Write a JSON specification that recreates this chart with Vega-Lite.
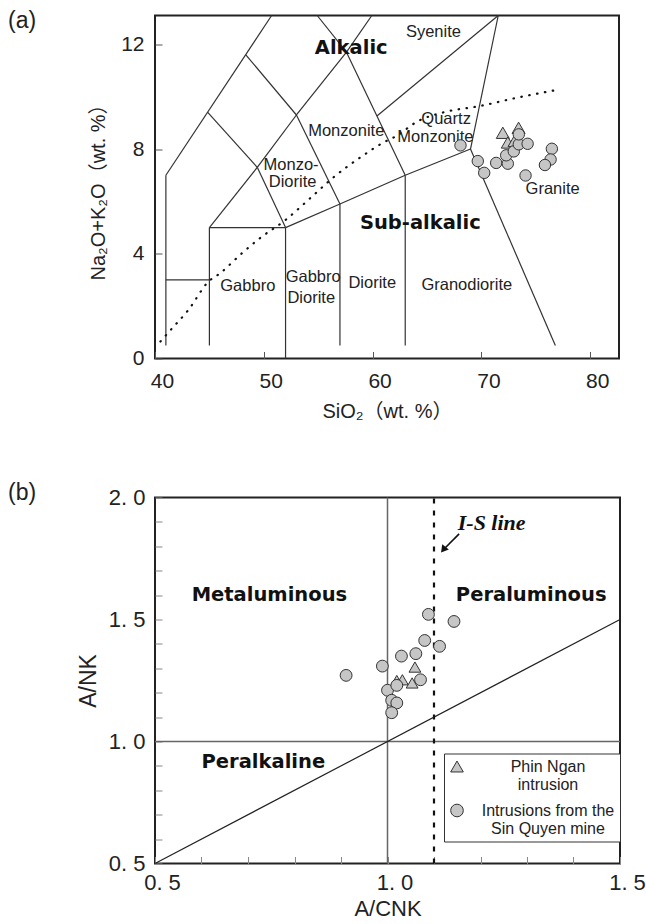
{
  "$schema": "https://vega.github.io/schema/vega-lite/v6.json",
  "padding": {"left": 7, "top": 8.5, "right": 0, "bottom": 0},
  "spacing": 42,
  "align": "all",
  "background": "white",
  "config": {
    "view": {"stroke": "#222", "strokeWidth": 2},
    "axis": {
      "domain": false, "grid": false, "tickColor": "#555", "tickSize": -7, "tickWidth": 1,
      "labelFont": "Liberation Sans", "labelColor": "#222", "labelFontSize": 21,
      "titleFont": "Liberation Sans, Noto Sans CJK SC", "titleFontWeight": "normal", "titleColor": "#222"
    }
  },
  "datasets": {
    "seg_a": [
      {"x": 41, "y": 0.5, "x2": 41, "y2": 7},
      {"x": 41, "y": 7, "x2": 50.72, "y2": 13.1},
      {"x": 41, "y": 3, "x2": 45, "y2": 3},
      {"x": 45, "y": 0.5, "x2": 45, "y2": 5},
      {"x": 45, "y": 5, "x2": 52, "y2": 5},
      {"x": 52, "y": 0, "x2": 52, "y2": 5},
      {"x": 45, "y": 5, "x2": 49.4, "y2": 7.3},
      {"x": 49.4, "y": 7.3, "x2": 52, "y2": 5},
      {"x": 49.4, "y": 7.3, "x2": 53, "y2": 9.3},
      {"x": 53, "y": 9.3, "x2": 57.6, "y2": 11.7},
      {"x": 44.85, "y": 9.4, "x2": 49.4, "y2": 7.3},
      {"x": 48.35, "y": 11.6, "x2": 53, "y2": 9.3},
      {"x": 53, "y": 9.3, "x2": 57, "y2": 5.9},
      {"x": 52, "y": 5, "x2": 57, "y2": 5.9},
      {"x": 57, "y": 0.5, "x2": 57, "y2": 5.9},
      {"x": 57, "y": 5.9, "x2": 63, "y2": 7},
      {"x": 63, "y": 0.5, "x2": 63, "y2": 7},
      {"x": 63, "y": 7, "x2": 69, "y2": 8},
      {"x": 69, "y": 8, "x2": 76.8, "y2": 0.5},
      {"x": 63, "y": 7, "x2": 57.6, "y2": 11.7},
      {"x": 57.6, "y": 11.7, "x2": 54.91, "y2": 13.1},
      {"x": 57.6, "y": 11.7, "x2": 59.93, "y2": 13.1},
      {"x": 60.4, "y": 9.26, "x2": 71.55, "y2": 13.1},
      {"x": 69, "y": 8, "x2": 71.55, "y2": 13.1}
    ],
    "alk_a": [
      {"x": 40.5, "y": 0.65}, {"x": 41.46, "y": 1.1}, {"x": 43.0, "y": 1.82}, {"x": 45.0, "y": 2.97},
      {"x": 45.9, "y": 3.23}, {"x": 48.07, "y": 4.05}, {"x": 49.75, "y": 4.63}, {"x": 51.9, "y": 5.26},
      {"x": 54.5, "y": 6.21}, {"x": 56.35, "y": 6.9}, {"x": 58.8, "y": 7.66}, {"x": 60.96, "y": 8.24},
      {"x": 62.15, "y": 8.49}, {"x": 64.15, "y": 9.06}, {"x": 66.6, "y": 9.41}, {"x": 69.83, "y": 9.64},
      {"x": 73.5, "y": 9.98}, {"x": 77.1, "y": 10.27}
    ],
    "names_a": [
      {"x": 65.59, "y": 12.48, "label": "Syenite"},
      {"x": 57.58, "y": 8.68, "label": "Monzonite"},
      {"x": 52.51, "y": 7.39, "label": "Monzo-"},
      {"x": 52.65, "y": 6.74, "label": "Diorite"},
      {"x": 66.76, "y": 9.15, "label": "Quartz"},
      {"x": 65.77, "y": 8.47, "label": "Monzonite"},
      {"x": 76.55, "y": 6.47, "label": "Granite"},
      {"x": 48.53, "y": 2.75, "label": "Gabbro"},
      {"x": 54.54, "y": 3.11, "label": "Gabbro"},
      {"x": 54.36, "y": 2.31, "label": "Diorite"},
      {"x": 59.97, "y": 2.88, "label": "Diorite"},
      {"x": 68.66, "y": 2.81, "label": "Granodiorite"}
    ],
    "bold_a": [
      {"x": 58.04, "y": 11.85, "label": "Alkalic"},
      {"x": 64.39, "y": 5.17, "label": "Sub-alkalic"}
    ],
    "pts_a": [
      {"x": 71.97, "y": 8.62, "group": "Phin Ngan intrusion"},
      {"x": 73.42, "y": 8.81, "group": "Phin Ngan intrusion"},
      {"x": 72.43, "y": 8.25, "group": "Phin Ngan intrusion"},
      {"x": 73.05, "y": 8.31, "group": "Phin Ngan intrusion"},
      {"x": 68.08, "y": 8.14, "group": "Intrusions from the Sin Quyen mine"},
      {"x": 69.67, "y": 7.54, "group": "Intrusions from the Sin Quyen mine"},
      {"x": 70.26, "y": 7.09, "group": "Intrusions from the Sin Quyen mine"},
      {"x": 71.36, "y": 7.47, "group": "Intrusions from the Sin Quyen mine"},
      {"x": 72.43, "y": 7.44, "group": "Intrusions from the Sin Quyen mine"},
      {"x": 72.28, "y": 7.76, "group": "Intrusions from the Sin Quyen mine"},
      {"x": 72.98, "y": 7.91, "group": "Intrusions from the Sin Quyen mine"},
      {"x": 73.44, "y": 8.18, "group": "Intrusions from the Sin Quyen mine"},
      {"x": 73.44, "y": 8.56, "group": "Intrusions from the Sin Quyen mine"},
      {"x": 74.25, "y": 8.2, "group": "Intrusions from the Sin Quyen mine"},
      {"x": 74.06, "y": 6.99, "group": "Intrusions from the Sin Quyen mine"},
      {"x": 76.48, "y": 8.01, "group": "Intrusions from the Sin Quyen mine"},
      {"x": 76.36, "y": 7.6, "group": "Intrusions from the Sin Quyen mine"},
      {"x": 75.84, "y": 7.39, "group": "Intrusions from the Sin Quyen mine"}
    ],
    "grid_b": [
      {"x": 0.5, "y": 1, "x2": 1.5, "y2": 1},
      {"x": 1, "y": 0.5, "x2": 1, "y2": 2}
    ],
    "diag_b": [
      {"x": 0.5, "y": 0.5, "x2": 1.5, "y2": 1.5}
    ],
    "is_b": [
      {"x": 1.1, "y": 0.5, "x2": 1.1, "y2": 2}
    ],
    "arrow_b": [
      {"x": 1.154, "y": 1.851, "x2": 1.12, "y2": 1.786}
    ],
    "head_b": [
      {"x": 1.12, "y": 1.786}
    ],
    "bold_b": [
      {"x": 0.746, "y": 1.599, "label": "Metaluminous"},
      {"x": 1.309, "y": 1.599, "label": "Peraluminous"},
      {"x": 0.733, "y": 0.916, "label": "Peralkaline"}
    ],
    "isl_b": [
      {"x": 1.224, "y": 1.896, "label": "I-S line"}
    ],
    "pts_b": [
      {"x": 1.059, "y": 1.305, "group": "Phin Ngan intrusion"},
      {"x": 1.032, "y": 1.253, "group": "Phin Ngan intrusion"},
      {"x": 1.053, "y": 1.24, "group": "Phin Ngan intrusion"},
      {"x": 1.02, "y": 1.25, "group": "Phin Ngan intrusion"},
      {"x": 0.911, "y": 1.271, "group": "Intrusions from the Sin Quyen mine"},
      {"x": 0.989, "y": 1.309, "group": "Intrusions from the Sin Quyen mine"},
      {"x": 1.03, "y": 1.35, "group": "Intrusions from the Sin Quyen mine"},
      {"x": 1.061, "y": 1.36, "group": "Intrusions from the Sin Quyen mine"},
      {"x": 1.071, "y": 1.253, "group": "Intrusions from the Sin Quyen mine"},
      {"x": 1.0, "y": 1.21, "group": "Intrusions from the Sin Quyen mine"},
      {"x": 1.02, "y": 1.23, "group": "Intrusions from the Sin Quyen mine"},
      {"x": 1.009, "y": 1.169, "group": "Intrusions from the Sin Quyen mine"},
      {"x": 1.02, "y": 1.158, "group": "Intrusions from the Sin Quyen mine"},
      {"x": 1.009, "y": 1.118, "group": "Intrusions from the Sin Quyen mine"},
      {"x": 1.08, "y": 1.414, "group": "Intrusions from the Sin Quyen mine"},
      {"x": 1.112, "y": 1.39, "group": "Intrusions from the Sin Quyen mine"},
      {"x": 1.088, "y": 1.521, "group": "Intrusions from the Sin Quyen mine"},
      {"x": 1.143, "y": 1.492, "group": "Intrusions from the Sin Quyen mine"}
    ]
  },
  "resolve": {"scale": {"shape": "independent", "fill": "independent", "stroke": "independent"}, "legend": {"shape": "independent", "fill": "independent", "stroke": "independent"}},
  "vconcat": [
    {
      "width": 464,
      "height": 343,
      "title": {"text": "(a)", "anchor": "start", "frame": "group", "dx": -147, "dy": 3.3, "baseline": "middle", "offset": -25.3, "fontSize": 23, "fontWeight": "normal", "font": "Liberation Sans", "color": "#222"},
      "encoding": {
        "x": {"field": "x", "type": "quantitative", "scale": {"domain": [40, 82.65], "nice": false, "zero": false},
              "axis": {"values": [40, 50, 60, 70, 80], "labelOffset": 7, "labelFlush": false, "labelPadding": 19,
                       "title": "SiO₂（wt. %）", "titleFontSize": 20, "titlePadding": 9.5}},
        "y": {"field": "y", "type": "quantitative", "scale": {"domain": [0, 13.1], "nice": false, "zero": false},
              "axis": {"values": [0, 4, 8, 12], "labelPadding": 18,
                       "title": "Na₂O+K₂O（wt. %）", "titleFontSize": 20, "titlePadding": 12}}
      },
      "layer": [
        {"data": {"name": "seg_a"}, "mark": {"type": "rule", "color": "#333", "strokeWidth": 1.2},
         "encoding": {"x2": {"field": "x2"}, "y2": {"field": "y2"}}},
        {"data": {"name": "alk_a"}, "mark": {"type": "line", "color": "#111", "strokeWidth": 2.2, "strokeDash": [0.5, 7.5], "strokeCap": "round", "interpolate": "monotone"},
         "encoding": {"order": {"field": "x", "type": "quantitative"}}},
        {"data": {"name": "names_a"}, "mark": {"type": "text", "font": "Liberation Sans", "fontSize": 16.5, "color": "#222", "align": "center", "baseline": "middle"},
         "encoding": {"text": {"field": "label"}}},
        {"data": {"name": "bold_a"}, "mark": {"type": "text", "font": "DejaVu Sans", "fontWeight": "bold", "fontSize": 19.5, "color": "#111", "align": "center", "baseline": "middle"},
         "encoding": {"text": {"field": "label"}}},
        {"data": {"name": "pts_a"}, "transform": [{"filter": "datum.group == 'Phin Ngan intrusion'"}],
         "mark": {"type": "point", "filled": true, "fill": "#c6c6c6", "stroke": "#333", "strokeWidth": 1, "opacity": 1, "size": 170},
         "encoding": {
           "shape": {"field": "group", "type": "nominal", "scale": {"domain": ["Phin Ngan intrusion", "Intrusions from the Sin Quyen mine"], "range": ["triangle-up", "circle"]}, "legend": null}
         }},
        {"data": {"name": "pts_a"}, "transform": [{"filter": "datum.group != 'Phin Ngan intrusion'"}],
         "mark": {"type": "point", "filled": true, "fill": "#c6c6c6", "stroke": "#333", "strokeWidth": 1, "opacity": 1, "size": 130},
         "encoding": {
           "shape": {"field": "group", "type": "nominal", "scale": {"domain": ["Phin Ngan intrusion", "Intrusions from the Sin Quyen mine"], "range": ["triangle-up", "circle"]}, "legend": null}
         }}
      ]
    },
    {
      "width": 465,
      "height": 366,
      "title": {"text": "(b)", "anchor": "start", "frame": "group", "dx": -147, "dy": -5, "baseline": "middle", "offset": -34, "fontSize": 23, "fontWeight": "normal", "font": "Liberation Sans", "color": "#222"},
      "encoding": {
        "x": {"field": "x", "type": "quantitative", "scale": {"domain": [0.5, 1.5], "nice": false, "zero": false},
              "axis": {"values": [0.5, 0.6, 0.7, 0.8, 0.9, 1.0, 1.1, 1.2, 1.3, 1.4, 1.5],
                       "labelExpr": "indexof(['0.5','1.0','1.5','2.0'], format(datum.value, '.1f')) >= 0 ? replace(format(datum.value, '.1f'), '.', '. ') : ''",
                       "labelFontSize": 22, "labelOffset": 7, "labelFlush": false, "labelPadding": 16, "tickColor": "#888",
                       "title": "A/CNK", "titleFontSize": 22, "titlePadding": 5}},
        "y": {"field": "y", "type": "quantitative", "scale": {"domain": [0.5, 2.0], "nice": false, "zero": false},
              "axis": {"values": [0.5, 0.6, 0.7, 0.8, 0.9, 1.0, 1.1, 1.2, 1.3, 1.4, 1.5, 1.6, 1.7, 1.8, 1.9, 2.0],
                       "labelExpr": "indexof(['0.5','1.0','1.5','2.0'], format(datum.value, '.1f')) >= 0 ? replace(format(datum.value, '.1f'), '.', '. ') : ''",
                       "labelFontSize": 22, "labelPadding": 17, "tickColor": "#888",
                       "title": "A/NK", "titleFontSize": 23, "titlePadding": 8}}
      },
      "layer": [
        {"data": {"name": "grid_b"}, "mark": {"type": "rule", "color": "#666", "strokeWidth": 1.5},
         "encoding": {"x2": {"field": "x2"}, "y2": {"field": "y2"}}},
        {"data": {"name": "diag_b"}, "mark": {"type": "rule", "color": "#222", "strokeWidth": 1.2},
         "encoding": {"x2": {"field": "x2"}, "y2": {"field": "y2"}}},
        {"data": {"name": "is_b"}, "mark": {"type": "rule", "color": "#111", "strokeWidth": 2.2, "strokeDash": [5, 7]},
         "encoding": {"x2": {"field": "x2"}, "y2": {"field": "y2"}}},
        {"data": {"name": "arrow_b"}, "mark": {"type": "rule", "color": "#111", "strokeWidth": 1.6},
         "encoding": {"x2": {"field": "x2"}, "y2": {"field": "y2"}}},
        {"data": {"name": "head_b"}, "mark": {"type": "point", "shape": "triangle-up", "filled": true, "color": "#111", "opacity": 1, "size": 70, "angle": 218},
         "encoding": {}},
        {"data": {"name": "bold_b"}, "mark": {"type": "text", "font": "DejaVu Sans", "fontWeight": "bold", "fontSize": 19.5, "color": "#111", "align": "center", "baseline": "middle"},
         "encoding": {"text": {"field": "label"}}},
        {"data": {"name": "isl_b"}, "mark": {"type": "text", "font": "Liberation Serif", "fontWeight": "bold", "fontStyle": "italic", "fontSize": 22, "color": "#111", "align": "center", "baseline": "middle"},
         "encoding": {"text": {"field": "label"}}},
        {"data": {"name": "pts_b"},
         "mark": {"type": "point", "filled": true, "strokeWidth": 1, "opacity": 1, "size": 140},
         "encoding": {
           "shape": {"field": "group", "type": "nominal", "scale": {"domain": ["Phin Ngan intrusion", "Intrusions from the Sin Quyen mine"], "range": ["triangle-up", "circle"]},
                     "legend": {"orient": "none", "legendX": 289, "legendY": 256, "title": null,
                                "strokeColor": "#333", "fillColor": "white", "padding": 5,
                                "symbolSize": 160, "symbolStrokeWidth": 1, "symbolOpacity": 1,
                                "labelFont": "Liberation Sans", "labelFontSize": 16, "labelColor": "#222", "labelAlign": "center", "labelOffset": 83, "labelLimit": 300,
                                "rowPadding": 9,
                                "labelExpr": "datum.label == 'Phin Ngan intrusion' ? ['Phin Ngan', 'intrusion'] : ['Intrusions from the', 'Sin Quyen mine']"}},
           "fill": {"field": "group", "type": "nominal", "scale": {"domain": ["Phin Ngan intrusion", "Intrusions from the Sin Quyen mine"], "range": ["#c6c6c6", "#c6c6c6"]},
                     "legend": {"orient": "none", "legendX": 289, "legendY": 256, "title": null,
                                "strokeColor": "#333", "fillColor": "white", "padding": 5,
                                "symbolSize": 160, "symbolStrokeWidth": 1, "symbolOpacity": 1,
                                "labelFont": "Liberation Sans", "labelFontSize": 16, "labelColor": "#222", "labelAlign": "center", "labelOffset": 83, "labelLimit": 300,
                                "rowPadding": 9,
                                "labelExpr": "datum.label == 'Phin Ngan intrusion' ? ['Phin Ngan', 'intrusion'] : ['Intrusions from the', 'Sin Quyen mine']"}},
           "stroke": {"field": "group", "type": "nominal", "scale": {"domain": ["Phin Ngan intrusion", "Intrusions from the Sin Quyen mine"], "range": ["#333333", "#333333"]},
                     "legend": {"orient": "none", "legendX": 289, "legendY": 256, "title": null,
                                "strokeColor": "#333", "fillColor": "white", "padding": 5,
                                "symbolSize": 160, "symbolStrokeWidth": 1, "symbolOpacity": 1,
                                "labelFont": "Liberation Sans", "labelFontSize": 16, "labelColor": "#222", "labelAlign": "center", "labelOffset": 83, "labelLimit": 300,
                                "rowPadding": 9,
                                "labelExpr": "datum.label == 'Phin Ngan intrusion' ? ['Phin Ngan', 'intrusion'] : ['Intrusions from the', 'Sin Quyen mine']"}}
         }}
      ]
    }
  ]
}
